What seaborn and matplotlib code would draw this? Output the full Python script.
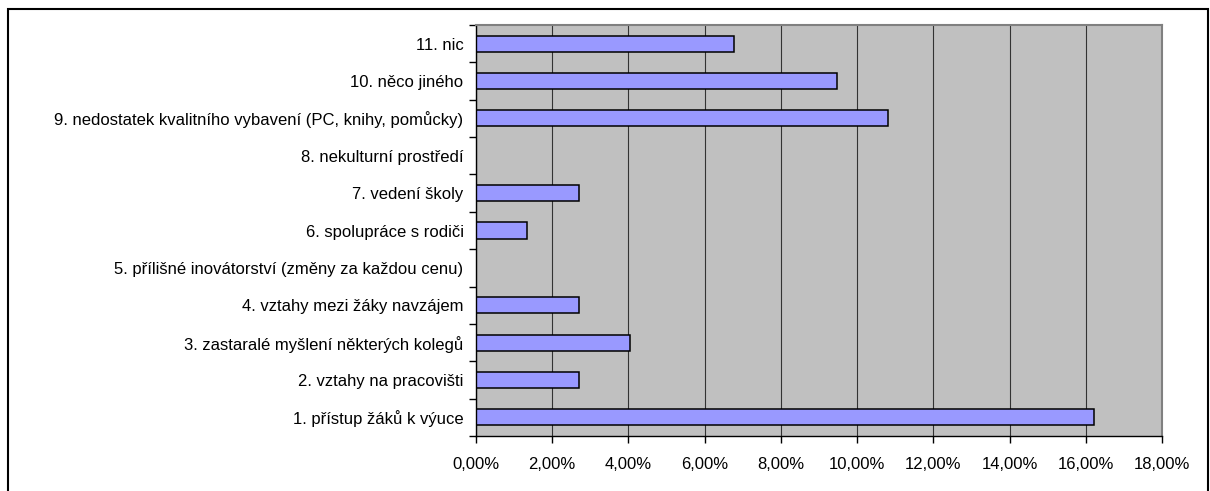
import matplotlib
matplotlib.use("Agg")
import matplotlib.pyplot as plt
import seaborn as sns
import pandas as pd
import numpy as np
from matplotlib.ticker import FixedLocator, FuncFormatter, MultipleLocator
from matplotlib.patches import Rectangle

# data (top to bottom as in the chart), values in %
categories = [
    "11. nic",
    "10. něco jiného",
    "9. nedostatek kvalitního vybavení (PC, knihy, pomůcky)",
    "8. nekulturní prostředí",
    "7. vedení školy",
    "6. spolupráce s rodiči",
    "5. přílišné inovátorství (změny za každou cenu)",
    "4. vztahy mezi žáky navzájem",
    "3. zastaralé myšlení některých kolegů",
    "2. vztahy na pracovišti",
    "1. přístup žáků k výuce",
]
shares = [6.76, 9.46, 10.81, 0.0, 2.70, 1.35, 0.0, 2.70, 4.05, 2.70, 16.22]
x_max = 18

W, H = 1210, 491

sns.set_theme(style="white")
plt.rcParams['font.family'] = ['Liberation Sans', 'DejaVu Sans']

df = pd.DataFrame({"kategorie": categories, "podil": shares})

fig = plt.figure(figsize=(W / 100, H / 100), dpi=100)
ax = fig.add_axes([476 / W, 1 - 436 / H, (1162 - 476) / W, (436 - 25) / H])

sns.barplot(data=df, x="podil", y="kategorie", orient="h", color="#9999FF",
            saturation=1, edgecolor="black", linewidth=1.1, width=0.43, ax=ax)

ax.set_facecolor("#C0C0C0")
ax.set_xlim(0, x_max)
ax.set_ylim(len(categories) - 0.5, -0.5)
ax.set_xlabel("")
ax.set_ylabel("")

# vertical gridlines every 2 %
ax.set_axisbelow(True)
ax.xaxis.set_major_locator(MultipleLocator(2))
ax.xaxis.grid(True, color="#333333", linewidth=0.8)
ax.yaxis.grid(False)
ax.xaxis.set_major_formatter(FuncFormatter(lambda v, _: f"{v:.2f}".replace(".", ",") + "%"))

# category tick marks sit between the bars
ax.yaxis.set_minor_locator(FixedLocator(np.arange(-0.5, len(categories), 1.0)))
ax.tick_params(axis="y", which="major", left=True, length=0, pad=9, labelsize=12, colors="black")
ax.tick_params(axis="y", which="minor", left=True, length=5, width=1, color="black")
ax.tick_params(axis="x", which="major", bottom=True, length=5, width=1, pad=10,
               labelsize=12, colors="black")

for side in ["left", "bottom"]:
    ax.spines[side].set_color("black")
    ax.spines[side].set_linewidth(1)
for side in ["top", "right"]:
    ax.spines[side].set_color("#808080")
    ax.spines[side].set_linewidth(1.5)

# outer chart border
fig.patches.append(Rectangle((8 / W, -0.02), (1208 - 8) / W, (H - 9) / H + 0.02,
                             transform=fig.transFigure, fill=False,
                             edgecolor="black", linewidth=1.5))

fig.savefig("out.png", dpi=100)
